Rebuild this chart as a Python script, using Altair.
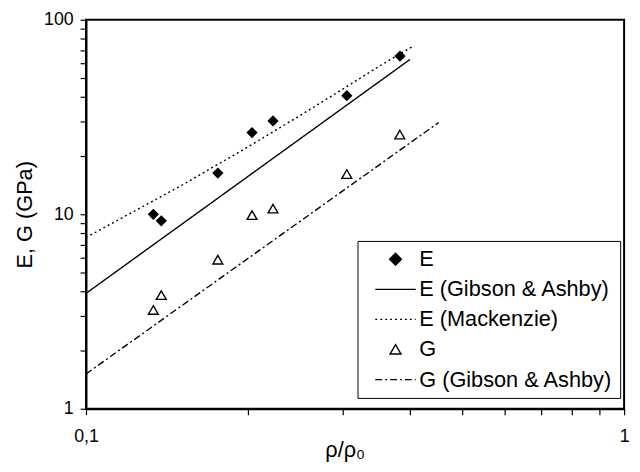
import altair as alt
import pandas as pd

rho_E = [0.1334, 0.138, 0.1758, 0.2035, 0.2226, 0.3053, 0.3833]
E_meas = [10.0, 9.25, 16.3, 26.3, 30.2, 40.7, 65.1]
rho_G = [0.1334, 0.138, 0.1758, 0.2035, 0.2226, 0.3053, 0.383]
G_meas = [3.22, 3.84, 5.84, 9.9, 10.7, 16.1, 25.7]

# model curves
rho_EGA = [0.1, 0.4]
E_GA = [3.92, 62.5]
rho_EMK = [0.1, 0.15, 0.2, 0.25, 0.3, 0.35, 0.405]
E_MK = [7.6, 14.0, 22.2, 32.2, 44.0, 57.5, 73.0]
rho_GGA = [0.1, 0.452]
G_GA = [1.51, 29.6]

series = ["E", "E (Gibson & Ashby)", "E (Mackenzie)", "G", "G (Gibson & Ashby)"]

x_ticks = [0.1, 0.2, 0.3, 0.4, 0.5, 0.6, 0.7, 0.8, 0.9, 1.0]
y_ticks = [1, 2, 3, 4, 5, 6, 7, 8, 9, 10, 20, 30, 40, 50, 60, 70, 80, 90, 100]

e_df = pd.DataFrame({"rho": rho_E, "val": E_meas})
g_df = pd.DataFrame({"rho": rho_G, "val": G_meas})
lines = pd.DataFrame(
    {"rho": rho_EGA + rho_EMK + rho_GGA,
     "val": E_GA + E_MK + G_GA,
     "series": [series[1]] * len(rho_EGA) + [series[2]] * len(rho_EMK) + [series[4]] * len(rho_GGA)}
)

dash_scale = alt.Scale(domain=series, range=[[1, 0], [1, 0], [2, 3], [1, 0], [7, 3, 2, 3]])

x_enc = alt.X(
    "rho:Q",
    scale=alt.Scale(type="log", domain=[0.1, 1], nice=False),
    axis=alt.Axis(
        values=x_ticks,
        labelExpr="datum.value == 0.1 ? '0,1' : (datum.value == 1 ? '1' : '')",
        title="ρ/ρ₀",
        labelFlush=False,
        labelPadding=13,
        titleX=262,
        titleY=48,
        titleAlign="center",
        titleBaseline="alphabetic",
    ),
)
y_enc = alt.Y(
    "val:Q",
    scale=alt.Scale(type="log", domain=[1, 100], nice=False),
    axis=alt.Axis(
        values=y_ticks,
        labelExpr="datum.value == 1 ? '1' : (datum.value == 10 ? '10' : (datum.value == 100 ? '100' : ''))",
        title="E, G (GPa)",
        labelPadding=7,
        titleX=-62,
        titleY=197,
        titleAngle=270,
        titleAlign="center",
        titleBaseline="middle",
    ),
)

sym_expr = (
    "datum.value == 'E' ? 'M0,-0.6L0.6,0L0,0.6L-0.6,0Z' : "
    "(datum.value == 'G' ? 'M0,-0.5L0.55,0.45L-0.55,0.45Z' : 'M-2.05,0L2.05,0')"
)
fill_expr = "datum.value == 'E' ? 'black' : 'white'"

leg = alt.Legend(
    title=None,
    orient="none",
    legendX=275,
    legendY=224,
    symbolType=alt.ExprRef(expr=sym_expr),
    symbolFillColor=alt.ExprRef(expr=fill_expr),
    symbolStrokeColor="black",
    symbolStrokeWidth=1.4,
    symbolSize=400,
    symbolOffset=20,
    labelOffset=13,
    rowPadding=8.5,
    padding=7.5,
    strokeColor="black",
    fillColor="white",
    labelFont="Liberation Sans",
    labelFontSize=22,
    labelColor="black",
    labelLimit=400,
)

curves = alt.Chart(lines).mark_line(color="black", strokeWidth=1.4).encode(
    x=x_enc,
    y=y_enc,
    strokeDash=alt.StrokeDash("series:N", scale=dash_scale, legend=leg),
)

e_pts = alt.Chart(e_df).mark_point(
    shape="diamond", filled=True, size=130, color="black", opacity=1
).encode(x=x_enc, y=y_enc)

g_pts = alt.Chart(g_df).mark_point(
    shape="triangle-up", filled=False, size=100, color="black", strokeWidth=1.4, opacity=1
).encode(x=x_enc, y=y_enc)

chart = (
    alt.layer(curves, e_pts, g_pts)
    .properties(
        width=545,
        height=394,
        autosize=alt.AutoSizeParams(type="none"),
        padding={"left": 79, "top": 9, "right": 8, "bottom": 53},
    )
    .configure_view(stroke="black", strokeWidth=2)
    .configure_axis(
        grid=False,
        domainColor="black",
        domainWidth=2,
        tickColor="black",
        tickWidth=1.2,
        tickSize=6,
        labelColor="black",
        titleColor="black",
        labelFont="Liberation Sans",
        titleFont="Liberation Sans",
        labelFontSize=18,
        titleFontSize=22,
        titleFontWeight="normal",
    )
)

chart.save("out.html", embed_options={"renderer": "svg", "actions": False})
